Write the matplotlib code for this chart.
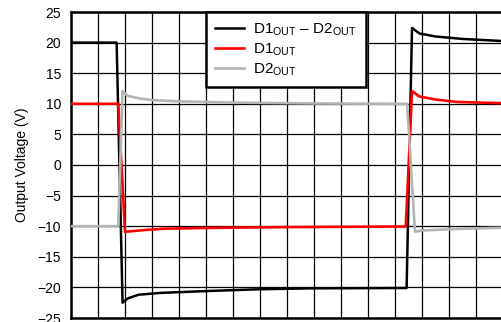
import matplotlib
matplotlib.use("Agg")
import matplotlib.pyplot as plt

plt.rcParams['font.family'] = ['Liberation Sans', 'DejaVu Sans']
plt.rcParams['mathtext.fontset'] = 'custom'
plt.rcParams['mathtext.rm'] = 'Liberation Sans'
plt.rcParams['mathtext.it'] = 'Liberation Sans'

# Time in grid divisions
t_diff = [0, 1.69, 1.91, 2.1, 2.5, 3.3, 5.0, 7.0, 9.0, 12.43, 12.63, 12.9, 13.5, 14.5, 16]
v_diff = [20, 20, -22.5, -21.8, -21.2, -20.9, -20.6, -20.3, -20.15, -20.1, 22.4, 21.5, 21.0, 20.6, 20.25]

t_d1 = [0, 1.75, 2.0, 2.3, 2.8, 3.5, 5.5, 8.0, 12.4, 12.63, 12.9, 13.5, 14.3, 16]
v_d1 = [10, 10, -10.9, -10.8, -10.6, -10.4, -10.25, -10.15, -10.05, 12.1, 11.2, 10.7, 10.3, 10.1]

t_d2 = [0, 1.75, 1.91, 2.1, 2.5, 3.0, 4.0, 6.0, 9.0, 12.45, 12.74, 13.0, 14.0, 15.0, 16]
v_d2 = [-10, -10, 12.1, 11.3, 10.9, 10.6, 10.4, 10.2, 10.05, 10.0, -10.9, -10.7, -10.5, -10.35, -10.25]

y_ticks = [-25, -20, -15, -10, -5, 0, 5, 10, 15, 20, 25]
x_grid = list(range(0, 17))

labels = [r'D1$_{\mathrm{OUT}}$ – D2$_{\mathrm{OUT}}$', r'D1$_{\mathrm{OUT}}$', r'D2$_{\mathrm{OUT}}$']

fig = plt.figure(figsize=(5.01, 3.22), dpi=100)
ax = fig.add_axes([71/501, 4/322, 432/501, 306/322])

ax.plot(t_diff, v_diff, color='black', lw=1.8, label=labels[0], zorder=3)
ax.plot(t_d1, v_d1, color='#ff0000', lw=1.9, label=labels[1], zorder=3)
ax.plot(t_d2, v_d2, color='#b4b4b4', lw=1.9, label=labels[2], zorder=3)

ax.set_xlim(0, 16)
ax.set_ylim(-25, 25)
ax.set_yticks(y_ticks)
ax.set_xticks(x_grid)
ax.set_xticklabels([])
ax.tick_params(axis='both', length=0, pad=7, labelsize=10)
ax.grid(True, color='black', lw=0.9, zorder=1)
ax.set_axisbelow(True)
for s in ax.spines.values():
    s.set_linewidth(1.8)
ax.set_ylabel('Output Voltage (V)', fontsize=10, labelpad=6)

leg = ax.legend(loc='upper left', bbox_to_anchor=((206-71)/432, 1.0), fontsize=11,
                frameon=True, fancybox=False, framealpha=1, edgecolor='black',
                handlelength=1.9, handletextpad=0.6, borderaxespad=0, labelspacing=0.25,
                borderpad=0.6)
leg.get_frame().set_linewidth(1.8)
leg.set_zorder(5)

fig.savefig('out.png', dpi=100)
